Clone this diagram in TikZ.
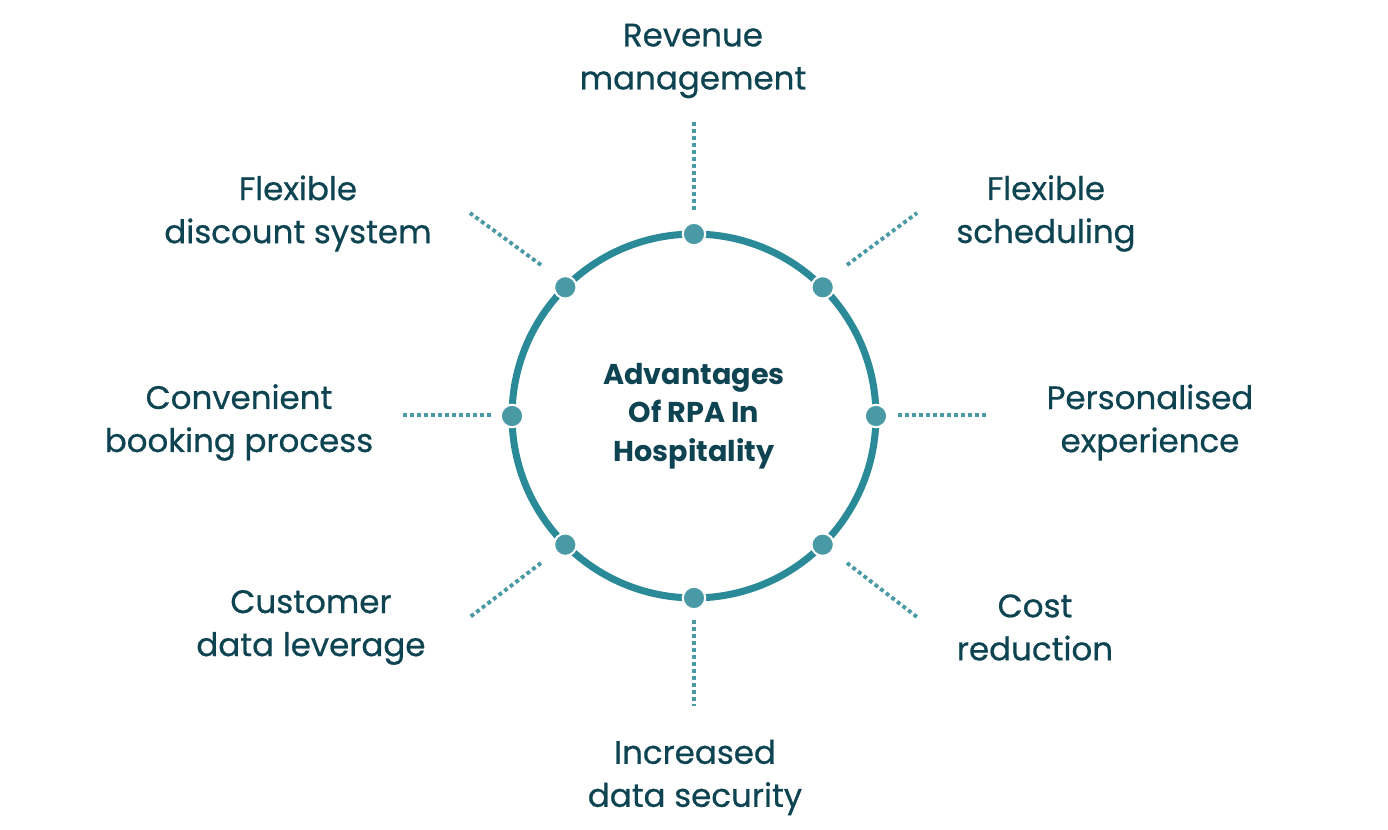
\documentclass[tikz,border=0pt]{standalone}
\usepackage{fontspec}
\setmainfont{Poppins}
\newfontfamily\labelfont{Poppins}[FakeBold=0.6]
\usetikzlibrary{positioning}
\definecolor{ringteal}{HTML}{2B8A97}
\definecolor{dotteal}{HTML}{4A9AA5}
\definecolor{inkteal}{HTML}{0E4452}
\tikzstyle{hub}=[circle,draw=ringteal,line width=4pt,minimum size=7.28cm,inner sep=0pt,outer sep=0pt,
  text=inkteal,font=\bfseries\fontsize{16.3}{22}\selectfont,align=center]
\tikzstyle{pin}=[circle,fill=dotteal,draw=white,line width=1.2pt,minimum size=0.45cm,inner sep=0pt]
\tikzstyle{spoke}=[draw=dotteal,line width=2.2pt,dash pattern=on 2.2pt off 1.8pt]
\tikzstyle{benefit}=[text=inkteal,font=\labelfont\fontsize{18.5}{24.5}\selectfont,align=center]

\begin{document}
\begin{tikzpicture}[x=0.02cm,y=0.02cm]
    \useasboundingbox (-694,-415) rectangle (694,415);

          \node[hub] (hub) at (0,-1) {Advantages\\Of RPA In\\Hospitality};

          % dots on the ring
          \foreach \a in {0,45,...,315}
            \node[pin] (pin-\a) at (hub.\a) {};

          % ends of the dotted spokes
          \coordinate (in-0)    at (204,0);     \coordinate (out-0)   at (292,0);
          \coordinate (in-90)   at (0,205);     \coordinate (out-90)  at (0,293);
          \coordinate (in-180)  at (-203,0);    \coordinate (out-180) at (-292,0);
          \coordinate (in-270)  at (0,-205);    \coordinate (out-270) at (0,-291);
          \coordinate (in-45)   at (153,150);   \coordinate (out-45)  at (223,202);
          \coordinate (in-135)  at (-153,150);  \coordinate (out-135) at (-224,202);
          \coordinate (in-225)  at (-153,-148); \coordinate (out-225) at (-224,-202);
          \coordinate (in-315)  at (153,-148);  \coordinate (out-315) at (223,-202);
          \foreach \a in {0,45,...,315}
            \draw[spoke] (in-\a) -- (out-\a);

          \node[benefit] (revenue)  at (-1,354)     {Revenue\\management};
          \node[benefit] (discount) at (-396,201.5) {Flexible\\discount system};
          \node[benefit] (schedule) at (352,201.5)  {Flexible\\scheduling};
          \node[benefit] (booking)  at (-455,-7.5)  {Convenient\\booking process};
          \node[benefit] (personal) at (456,-7.5)   {Personalised\\experience};
          \node[benefit] (customer) at (-383,-212.5){Customer\\data leverage};
          \node[benefit] (cost)     at (341,-212.5) {Cost\\reduction};
          \node[benefit] (security) at (1,-362.5)   {Increased\\data security};
        \end{tikzpicture}
\end{document}
